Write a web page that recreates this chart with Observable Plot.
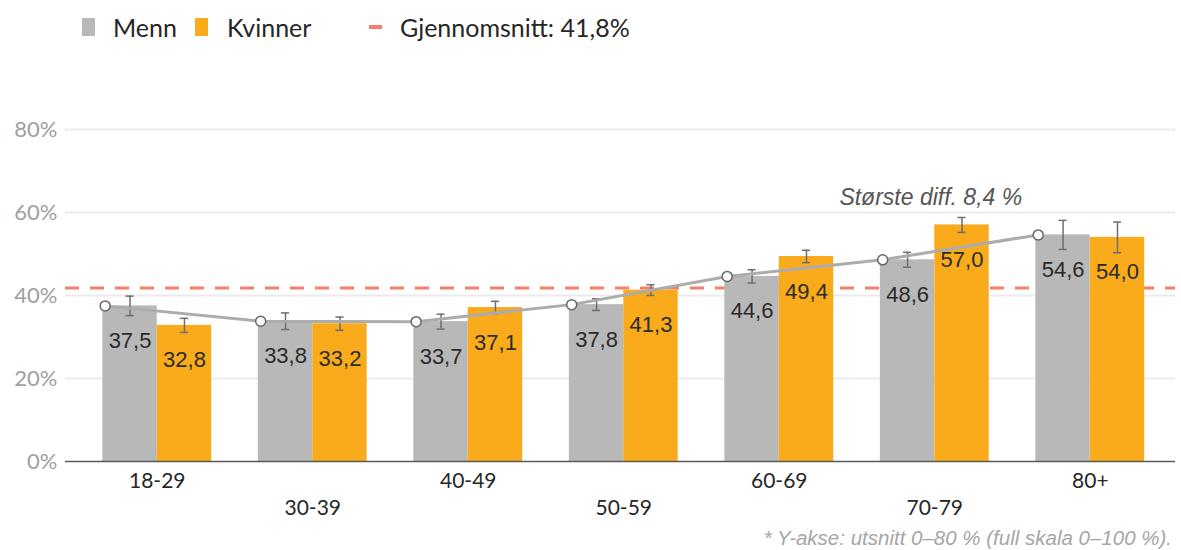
<!DOCTYPE html>
<html>
<head>
<meta charset="utf-8">
<script src="https://cdn.jsdelivr.net/npm/d3@7"></script>
<script src="https://cdn.jsdelivr.net/npm/@observablehq/plot@0.6"></script>
<style>
  body { margin: 0; background: #fff; width: 1181px; height: 550px; overflow: hidden; }
  #legend { position: relative; height: 50px; font-family: Lato, "Open Sans", sans-serif; font-size: 25px; color: #262626; }
  #legend .sw { position: absolute; top: 18px; width: 13px; height: 18px; }
  #legend .lb { position: absolute; top: 11px; line-height: 32px; }
  #legend .dash { position: absolute; top: 25px; width: 13px; height: 4px; background: #f4806b; }
  #chart { height: 470px; }
  #caption { position: relative; height: 30px; font-family: "Liberation Sans", Arial, sans-serif; font-style: italic; font-size: 20.5px; color: #a6a6a6; }
  #caption span { position: absolute; right: 9px; top: 6px; white-space: nowrap; }
</style>
</head>
<body>
<div id="legend"></div>
<div id="chart"></div>
<div id="caption"><span>* Y-akse: utsnitt 0–80 % (full skala 0–100 %).</span></div>
<script>
const groups = ["18-29", "30-39", "40-49", "50-59", "60-69", "70-79", "80+"];
const menn = [37.5, 33.8, 33.7, 37.8, 44.6, 48.6, 54.6];
const kvinner = [32.8, 33.2, 37.1, 41.3, 49.4, 57.0, 54.0];
const mennErr = [2.35, 2.0, 1.8, 1.4, 1.6, 1.8, 3.5];
const kvinnerErr = [1.7, 1.6, 1.5, 1.3, 1.5, 1.8, 3.7];
const average = 41.8;
const yTicks = [0, 20, 40, 60, 80];
const seriesNames = ["Menn", "Kvinner"];
const colors = ["#b8b8b8", "#f9ab1b"];
const annotation = [{ text: "Største diff. 8,4 %", group: "70-79", y: 63.6 }];

// legend
const legend = document.getElementById("legend");
const legendItems = [
  { type: "sw", color: colors[0], x: 82, label: seriesNames[0], lx: 113 },
  { type: "sw", color: colors[1], x: 195, label: seriesNames[1], lx: 227 },
  { type: "dash", color: "#f4806b", x: 369, label: "Gjennomsnitt: " + String(average).replace(".", ",") + "%", lx: 400 }
];
for (const it of legendItems) {
  const s = document.createElement("div");
  s.className = it.type;
  s.style.left = it.x + "px";
  s.style.background = it.color;
  legend.appendChild(s);
  const l = document.createElement("div");
  l.className = "lb";
  l.style.left = it.lx + "px";
  l.textContent = it.label;
  legend.appendChild(l);
}

const half = 0.35;
const rows = [];
groups.forEach((g, i) => {
  rows.push({ i, group: g, series: "Menn", value: menn[i], err: mennErr[i], cx: i - half / 2, x1: i - half, x2: i });
  rows.push({ i, group: g, series: "Kvinner", value: kvinner[i], err: kvinnerErr[i], cx: i + half / 2, x1: i, x2: i + half });
});
const mennRows = rows.filter(d => d.series === "Menn");
const fmt = v => v.toFixed(1).replace(".", ",");
const capW = 0.026;

const chart = Plot.plot({
  width: 1181,
  height: 470,
  marginLeft: 65,
  marginRight: 6,
  marginTop: 79,
  marginBottom: 59,
  style: { fontFamily: "Lato, 'Open Sans', sans-serif", background: "white", overflow: "visible" },
  x: { type: "linear", domain: [-0.59, 6.548], axis: null },
  y: { domain: [0, 80], axis: null },
  marks: [
    Plot.ruleY(yTicks.filter(d => d > 0), { stroke: "#ebebeb", strokeWidth: 2 }),
    Plot.ruleY([average], { stroke: "#f4806b", strokeWidth: 3, strokeDasharray: "14,11" }),
    Plot.rect(rows, { x1: "x1", x2: "x2", y1: d => 0, y2: "value", fill: d => colors[seriesNames.indexOf(d.series)] }),
    Plot.ruleY([0], { stroke: "#595959", strokeWidth: 1.5 }),
    Plot.ruleX(rows, { x: "cx", y1: d => d.value - d.err, y2: d => d.value + d.err, stroke: "#6e6e6e", strokeWidth: 1.5 }),
    Plot.ruleY(rows, { x1: d => d.cx - capW, x2: d => d.cx + capW, y: d => d.value - d.err, stroke: "#6e6e6e", strokeWidth: 1.5 }),
    Plot.ruleY(rows, { x1: d => d.cx - capW, x2: d => d.cx + capW, y: d => d.value + d.err, stroke: "#6e6e6e", strokeWidth: 1.5 }),
    Plot.line(mennRows, { x: d => d.i - 0.335, y: "value", stroke: "#acacac", strokeWidth: 3 }),
    Plot.dot(mennRows, { x: d => d.i - 0.335, y: "value", r: 5, fill: "white", stroke: "#666", strokeWidth: 1.5 }),
    Plot.text(rows, { x: "cx", y: "value", text: d => fmt(d.value), dy: 35, fontSize: 22, fill: "#2b2b2b", fontFamily: "'Liberation Sans', Arial, sans-serif" }),
    Plot.text(yTicks, { x: () => -0.59, y: d => d, text: d => d + "%", textAnchor: "end", dx: -8, fontSize: 22, fill: "#a0a0a0" }),
    Plot.text(groups, { x: (d, i) => i, y: () => 0, text: d => d, fontSize: 21, fill: "#262626", filter: (d, i) => i % 2 === 0, dy: 20 }),
    Plot.text(groups, { x: (d, i) => i, y: () => 0, text: d => d, fontSize: 21, fill: "#262626", filter: (d, i) => i % 2 === 1, dy: 47 }),
    Plot.text(annotation, { x: d => groups.indexOf(d.group), y: "y", text: "text", dx: -4, fontSize: 23, fontStyle: "italic", fill: "#555", fontFamily: "'Liberation Sans', Arial, sans-serif" })
  ]
});
document.getElementById("chart").appendChild(chart);
</script>
</body>
</html>
